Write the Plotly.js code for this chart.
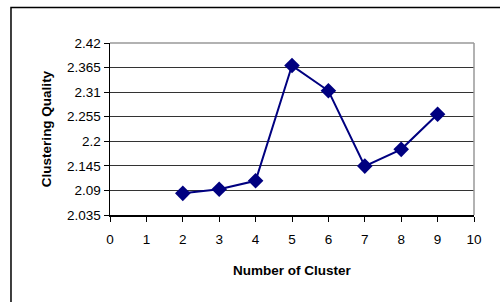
<!DOCTYPE html>
<html><head><meta charset="utf-8">
<script src="https://cdn.plot.ly/plotly-3.0.1.min.js"></script>
<style>html,body{margin:0;padding:0;background:#fff;}#chart{width:500px;height:302px;}</style>
</head><body><div id="chart"></div>
<script>
const clusters = [2, 3, 4, 5, 6, 7, 8, 9];
const quality = [2.0835, 2.0925, 2.1115, 2.3695, 2.313, 2.1445, 2.182, 2.2605];
const yTicks = [2.035, 2.09, 2.145, 2.2, 2.255, 2.31, 2.365, 2.42];
const yTickText = ['2.035', '2.09', '2.145', '2.2', '2.255', '2.31', '2.365', '2.42'];
const xTicks = [0, 1, 2, 3, 4, 5, 6, 7, 8, 9, 10];

const trace = {
  x: clusters, y: quality, type: 'scatter', mode: 'lines+markers',
  line: {color: '#000080', width: 2},
  marker: {symbol: 'diamond', size: 12, color: '#000080'},
  showlegend: false, hoverinfo: 'none'
};
const tickFont = {family: 'Liberation Sans, Arial, sans-serif', size: 13.5, color: '#000'};
const titleFont = {family: 'Liberation Sans, Arial, sans-serif', size: 13.5, color: '#000'};
const layout = {
  width: 500, height: 302,
  margin: {l: 110, r: 26, t: 43, b: 87},
  paper_bgcolor: '#fff', plot_bgcolor: '#fff',
  font: tickFont,
  xaxis: {
    range: [0, 10], tickvals: xTicks, ticks: 'outside', ticklen: 5, tickcolor: '#000',
    showgrid: false, zeroline: false, showline: true, linecolor: '#000', linewidth: 1.5,
    tickfont: tickFont, ticklabelstandoff: 6,
    title: {text: '<b>Number of Cluster</b>', font: titleFont, standoff: 20}
  },
  yaxis: {
    range: [2.035, 2.42], tickvals: yTicks, ticktext: yTickText, ticks: 'outside', ticklen: 5, tickcolor: '#000',
    showgrid: true, gridcolor: '#333', gridwidth: 1, zeroline: false,
    showline: true, linecolor: '#000', linewidth: 1.5, tickfont: tickFont,
    title: {text: '<b>Clustering Quality</b>', font: titleFont, standoff: 12}
  },
  shapes: [
    {type: 'line', xref: 'paper', yref: 'paper', x0: 0, x1: 1, y0: 1, y1: 1, line: {color: '#999', width: 1.5}},
    {type: 'line', xref: 'paper', yref: 'paper', x0: 1, x1: 1, y0: 0, y1: 1, line: {color: '#999', width: 1.5}},
    {type: 'rect', xref: 'paper', yref: 'paper', x0: -0.272, x1: 1.3, y0: -0.7, y1: 1.207, line: {color: '#000', width: 1.5}, fillcolor: 'rgba(0,0,0,0)'}
  ]
};
Plotly.newPlot('chart', [trace], layout, {displayModeBar: false, staticPlot: true});
</script></body></html>
